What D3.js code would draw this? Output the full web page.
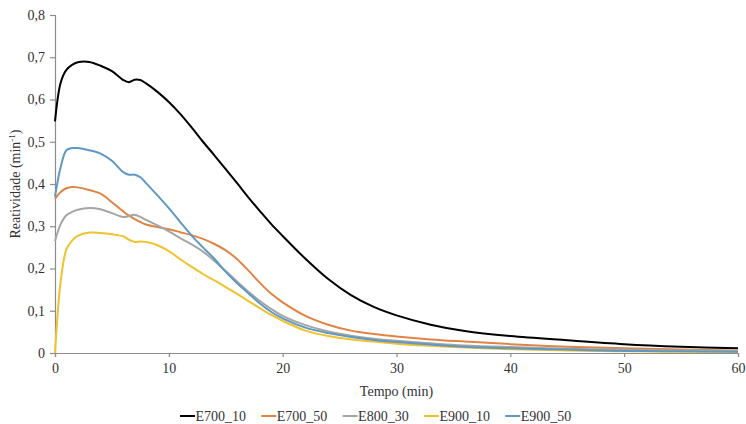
<!DOCTYPE html>
<html>
<head>
<meta charset="utf-8">
<script src="https://cdn.jsdelivr.net/npm/d3@7"></script>
<style>
  html, body { margin: 0; padding: 0; background: #fff; }
  svg { display: block; }
</style>
</head>
<body>
<div id="chart"></div>
<script>
// Tempo (min) sampling grid shared by all series
const tempo = [0, 0.5, 1, 1.5, 2, 3, 4, 5, 6, 6.5, 7, 7.5, 8, 9, 10, 11, 12, 13, 14, 15, 16, 17, 18, 19, 20, 22, 24, 26, 28, 30, 33, 36, 40, 45, 50, 55, 60];

const seriesNames = ["E700_10", "E700_50", "E800_30", "E900_10", "E900_50"];

// Reatividade (min^-1)
const e700_10 = [0.548, 0.640, 0.670, 0.682, 0.688, 0.689, 0.680, 0.667, 0.646, 0.641, 0.647, 0.646, 0.638, 0.618, 0.594, 0.566, 0.534, 0.500, 0.468, 0.435, 0.402, 0.368, 0.336, 0.305, 0.277, 0.223, 0.175, 0.137, 0.109, 0.089, 0.067, 0.052, 0.040, 0.030, 0.021, 0.015, 0.011];
const e700_50 = [0.365, 0.381, 0.390, 0.393, 0.392, 0.386, 0.377, 0.357, 0.335, 0.325, 0.317, 0.310, 0.304, 0.298, 0.293, 0.286, 0.279, 0.270, 0.258, 0.243, 0.222, 0.195, 0.166, 0.140, 0.120, 0.088, 0.067, 0.053, 0.045, 0.039, 0.032, 0.027, 0.021, 0.015, 0.011, 0.008, 0.006];
const e800_30 = [0.265, 0.305, 0.326, 0.334, 0.339, 0.343, 0.340, 0.331, 0.322, 0.324, 0.327, 0.322, 0.315, 0.302, 0.288, 0.272, 0.257, 0.240, 0.218, 0.194, 0.169, 0.145, 0.123, 0.104, 0.088, 0.066, 0.051, 0.041, 0.034, 0.029, 0.023, 0.018, 0.014, 0.010, 0.008, 0.006, 0.005];
const e900_10 = [0.000, 0.170, 0.245, 0.266, 0.277, 0.285, 0.284, 0.281, 0.276, 0.268, 0.263, 0.264, 0.263, 0.255, 0.241, 0.222, 0.204, 0.187, 0.172, 0.156, 0.140, 0.123, 0.106, 0.090, 0.076, 0.053, 0.040, 0.032, 0.027, 0.022, 0.017, 0.013, 0.009, 0.006, 0.004, 0.003, 0.003];
const e900_50 = [0.370, 0.440, 0.480, 0.485, 0.485, 0.480, 0.472, 0.455, 0.428, 0.422, 0.422, 0.416, 0.402, 0.373, 0.343, 0.310, 0.278, 0.250, 0.223, 0.192, 0.165, 0.141, 0.117, 0.097, 0.082, 0.060, 0.047, 0.038, 0.031, 0.026, 0.020, 0.015, 0.011, 0.008, 0.005, 0.004, 0.003];

const seriesValues = [e700_10, e700_50, e800_30, e900_10, e900_50];
const seriesColors = ["#000000", "#E08446", "#A5A5A5", "#F0C22E", "#5F98C2"];

const xTicks = [0, 10, 20, 30, 40, 50, 60];
const yTicks = [0, 0.1, 0.2, 0.3, 0.4, 0.5, 0.6, 0.7, 0.8];

const W = 746, H = 424;
const margin = { left: 55, right: 8, top: 15, bottom: 71 };

const svg = d3.select("#chart").append("svg")
  .attr("width", W).attr("height", H);

const x = d3.scaleLinear().domain([0, 60]).range([margin.left, W - margin.right]);
const y = d3.scaleLinear().domain([0, 0.8]).range([H - margin.bottom, margin.top]);

const fmt = v => String(+v.toFixed(1)).replace(".", ",");
const font = "\"Liberation Serif\"";
const axisColor = "#8c8c8c";
const textColor = "#333333";
const fontSize = "14px";

// Y axis
const yAxis = svg.append("g")
  .attr("transform", `translate(${margin.left},0)`)
  .call(d3.axisLeft(y).tickValues(yTicks).tickFormat(fmt).tickSize(5).tickPadding(5));
// X axis
const xAxis = svg.append("g")
  .attr("transform", `translate(0,${y(0)})`)
  .call(d3.axisBottom(x).tickValues(xTicks).tickFormat(d => d).tickSize(4).tickPadding(6));

[yAxis, xAxis].forEach(g => {
  g.select(".domain").attr("stroke", axisColor).attr("stroke-width", 1.2);
  g.selectAll(".tick line").attr("stroke", axisColor).attr("stroke-width", 1.2);
  g.selectAll(".tick text")
    .attr("fill", textColor)
    .style("font-family", font)
    .style("font-size", fontSize);
});

// Series lines
const line = d3.line()
  .x((d, i) => x(tempo[i]))
  .y(d => y(d))
  .curve(d3.curveCatmullRom.alpha(0.5));

seriesValues.forEach((vals, k) => {
  svg.append("path")
    .datum(vals)
    .attr("fill", "none")
    .attr("stroke", seriesColors[k])
    .attr("stroke-width", 2)
    .attr("stroke-linejoin", "round")
    .attr("d", line);
});

// Axis titles
svg.append("text")
  .attr("x", (x(0) + x(60)) / 2)
  .attr("y", 396)
  .attr("text-anchor", "middle")
  .attr("fill", textColor)
  .style("font-family", font)
  .style("font-size", fontSize)
  .text("Tempo (min)");

const yTitle = svg.append("text")
  .attr("transform", `translate(20,${(y(0) + y(0.8)) / 2}) rotate(-90)`)
  .attr("text-anchor", "middle")
  .attr("fill", textColor)
  .style("font-family", font)
  .style("font-size", fontSize);
yTitle.append("tspan").text("Reatividade (min");
yTitle.append("tspan").attr("dy", -5).style("font-size", "9px").text("-1");
yTitle.append("tspan").attr("dy", 5).text(")");

// Legend
const legend = svg.append("g").attr("transform", "translate(180,416)");
seriesNames.forEach((name, k) => {
  const g = legend.append("g").attr("transform", `translate(${k * 81.3},0)`);
  g.append("line")
    .attr("x1", 0).attr("x2", 15)
    .attr("y1", 0).attr("y2", 0)
    .attr("stroke", seriesColors[k])
    .attr("stroke-width", 2);
  g.append("text")
    .attr("x", 15.5).attr("y", 4.5)
    .attr("fill", textColor)
    .style("font-family", font)
    .style("font-size", fontSize)
    .text(name);
});
</script>
</body>
</html>
